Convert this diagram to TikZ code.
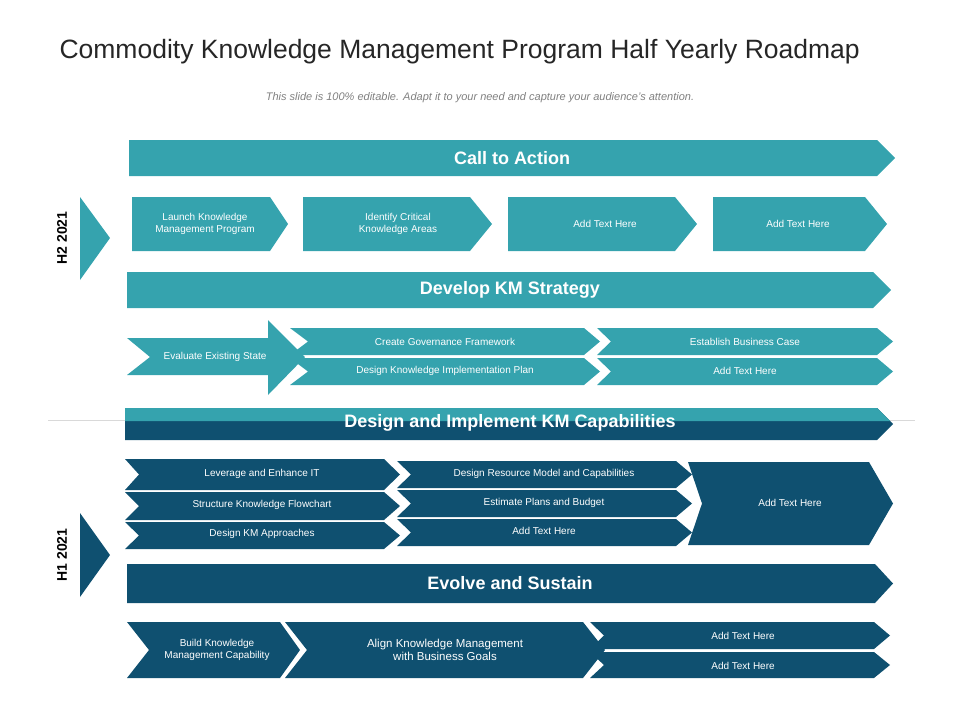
\documentclass[tikz,border=0pt]{standalone}
\usepackage{fontspec}
\setmainfont{Liberation Sans}
\definecolor{teal}{HTML}{35A3AE}
\definecolor{dblue}{HTML}{0F5070}
\newcommand\shp[7]{\fill[#1] (#2,#3) -- ({#4-#6},#3) -- (#4,{(#3+#5)/2}) -- ({#4-#6},#5) -- (#2,#5) -- ({#2+#7},{(#3+#5)/2}) -- cycle;}
\begin{document}
\begin{tikzpicture}[x=1pt,y=-1pt,
  lbl/.style={text=white,font=\fontsize{10}{12}\selectfont,align=center},
  big/.style={text=white,font=\bfseries\fontsize{18}{20}\selectfont}]
\useasboundingbox (0,0) rectangle (960,720);
\node[anchor=west,font=\fontsize{26.5}{29}\selectfont,text=black!85] (title) at (56,52) {Commodity Knowledge Management Program Half Yearly Roadmap};
\node[font=\itshape\fontsize{11}{13}\selectfont,text=gray] (sub) at (480,98) {This slide is 100\% editable. Adapt it to your need and capture your audience's attention.};
% H2
\fill[teal] (80,197) -- (110,238) -- (80,280) -- cycle;
\node[rotate=90,font=\bfseries\fontsize{14}{16}\selectfont] (h2) at (62,238) {H2 2021};
\shp{teal}{129}{140}{895}{176}{18}{0}
\node[big] (cta) at (512,158) {Call to Action};
\shp{teal}{132}{197}{288}{251}{18}{0}
\node[lbl] (a1) at (205,224) {Launch Knowledge\\Management Program};
\shp{teal}{303}{197}{492}{251}{22}{0}
\node[lbl] (a2) at (398,224) {Identify Critical\\Knowledge Areas};
\shp{teal}{508}{197}{697}{251}{22}{0}
\node[lbl] (a3) at (605,224) {Add Text Here};
\shp{teal}{713}{197}{887}{251}{22}{0}
\node[lbl] (a4) at (798,224) {Add Text Here};
\shp{teal}{127}{272}{891}{308}{18}{0}
\node[big] (dks) at (510,290) {Develop KM Strategy};
\fill[teal] (127,338) -- (268,338) -- (268,320) -- (305,357) -- (268,395) -- (268,375) -- (127,375) -- (150,357) -- cycle;
\node[lbl] (b1) at (215,357) {Evaluate Existing State};
\shp{teal}{290}{328}{600}{355}{16}{18}
\node[lbl] (b2) at (445,342) {Create Governance Framework};
\shp{teal}{290}{358}{600}{385}{16}{18}
\node[lbl] (b3) at (445,371) {Design Knowledge Implementation Plan};
\shp{teal}{597}{328}{893}{355}{16}{14}
\node[lbl] (b4) at (745,342) {Establish Business Case};
\shp{teal}{597}{358}{893}{385}{16}{14}
\node[lbl] (b5) at (745,371) {Add Text Here};
% divider
\draw[black!15] (48,420) -- (915,420);
\shp{dblue}{125}{408}{893}{440}{16}{0}
\fill[teal] (125,408) -- (877,408) -- (890,421) -- (125,421) -- cycle;
\node[big] (dik) at (510,423) {Design and Implement KM Capabilities};
% H1
\fill[dblue] (80,513) -- (110,555) -- (80,597) -- cycle;
\node[rotate=90,font=\bfseries\fontsize{14}{16}\selectfont] (h1) at (62,555) {H1 2021};
\shp{dblue}{125}{459}{400}{490}{16}{14}
\node[lbl] (c1) at (262,474) {Leverage and Enhance IT};
\shp{dblue}{125}{492}{400}{520}{16}{14}
\node[lbl] (c2) at (262,505) {Structure Knowledge Flowchart};
\shp{dblue}{125}{522}{400}{549}{16}{14}
\node[lbl] (c3) at (262,534) {Design KM Approaches};
\shp{dblue}{397}{461}{692}{488}{16}{14}
\node[lbl] (c4) at (544,474) {Design Resource Model and Capabilities};
\shp{dblue}{397}{490}{692}{517}{16}{14}
\node[lbl] (c5) at (544,503) {Estimate Plans and Budget};
\shp{dblue}{397}{519}{692}{546}{16}{14}
\node[lbl] (c6) at (544,531) {Add Text Here};
\shp{dblue}{688}{462}{893}{545}{24}{14}
\node[lbl] (c7) at (790,503) {Add Text Here};
\shp{dblue}{127}{564}{893}{603}{18}{0}
\node[big] (evs) at (510,583) {Evolve and Sustain};
\shp{dblue}{127}{622}{300}{678}{20}{22}
\node[lbl] (d1) at (217,650) {Build Knowledge\\Management Capability};
\shp{dblue}{285}{622}{605}{678}{22}{22}
\node[lbl,font=\fontsize{11.5}{13}\selectfont] (d2) at (445,650) {Align Knowledge Management\\with Business Goals};
\shp{dblue}{590}{622}{890}{649}{16}{14}
\node[lbl] (d3) at (743,636) {Add Text Here};
\shp{dblue}{590}{652}{890}{678}{16}{14}
\node[lbl] (d4) at (743,666) {Add Text Here};
\end{tikzpicture}
\end{document}
